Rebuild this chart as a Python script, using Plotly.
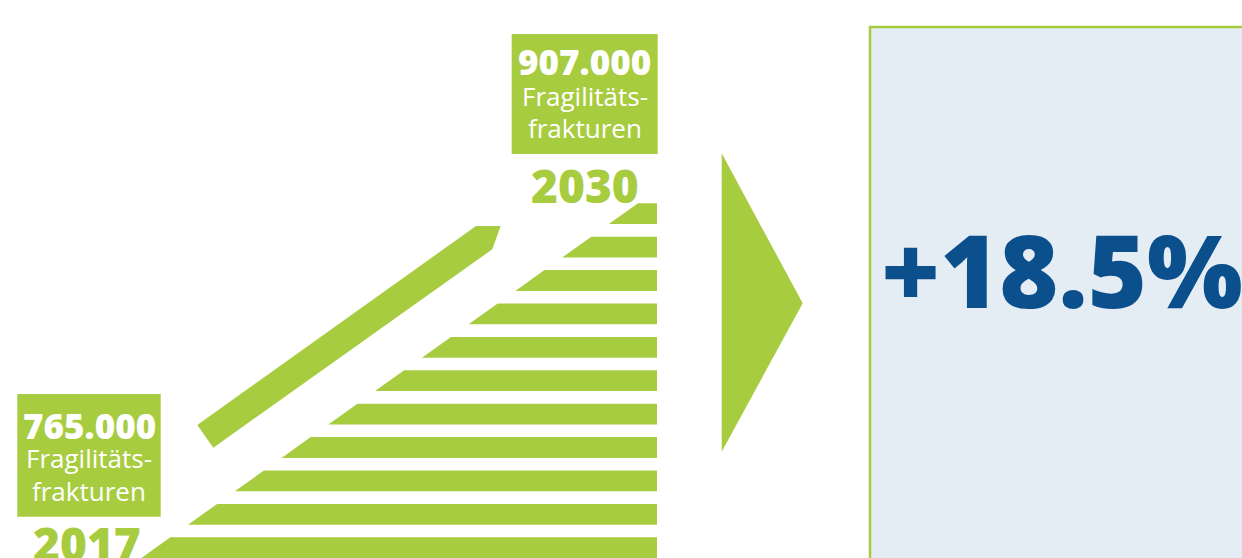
import plotly.graph_objects as go

# ---- data ----
years = ["2017", "2030"]
fractures = [765000, 907000]
label_lines = ["Fragilitäts-", "frakturen"]
growth_pct = 18.5
stripe_count = 11

GREEN = "#A8CC40"
BLUE = "#0B4F8C"
BOX_BG = "#E4ECF4"
FONT = "Open Sans"

W, H = 1242, 558

def de_num(v):
    return f"{v:,}".replace(",", ".")

fig = go.Figure()

# ---- stepped ramp (stripes under a diagonal) ----
top0, pitch, sh = 203.3, 33.4, 20.8
x_right, x_at_top0, slope = 657, 638, 1.40
def xl(y):
    return x_at_top0 - slope * (y - top0)

sx, sy = [], []
for i in range(stripe_count):
    yt = top0 + i * pitch
    yb = yt + sh
    sx += [xl(yt), x_right, x_right, xl(yb), xl(yt), None]
    sy += [yt, yt, yb, yb, yt, None]
fig.add_trace(go.Scatter(x=sx, y=sy, mode="lines", fill="toself",
                         fillcolor=GREEN, line=dict(width=0), hoverinfo="skip"))

# ---- diagonal trend bar ----
bx = [197.3, 476, 500.7, 492.3, 213.3, 197.3]
by = [425, 226, 226, 249.3, 447.7, 425]
fig.add_trace(go.Scatter(x=bx, y=by, mode="lines", fill="toself",
                         fillcolor=GREEN, line=dict(width=0), hoverinfo="skip"))

# ---- arrow triangle ----
fig.add_trace(go.Scatter(x=[721.7, 802.7, 721.7, 721.7], y=[153.3, 303.3, 451.7, 153.3],
                         mode="lines", fill="toself", fillcolor=GREEN,
                         line=dict(width=0), hoverinfo="skip"))

shapes = []
# result box
shapes.append(dict(type="rect", xref="x", yref="y", x0=870, y0=27, x1=1260, y1=580,
                   fillcolor=BOX_BG, line=dict(color=GREEN, width=2.5), layer="below"))
# label boxes
label_boxes = [(17.3, 394, 160.7, 516.7), (511.7, 34, 657.7, 154)]
for (x0, y0, x1, y1) in label_boxes:
    shapes.append(dict(type="rect", xref="x", yref="y", x0=x0, y0=y0, x1=x1, y1=y1,
                       fillcolor=GREEN, line=dict(width=0), layer="below"))

annotations = []
def txt(x, y, s, size, color, weight=400, xanchor="center"):
    annotations.append(dict(x=x, y=y, xref="x", yref="y", text=s, showarrow=False,
                            xanchor=xanchor, yanchor="middle",
                            font=dict(family=FONT, size=size, color=color, weight=weight)))

# label positions: (center x, value y, line1 y, line2 y, year x, year y)
pos = [(89, 425.3, 458, 491.4, 86.7, 543.1),
       (584.7, 61.8, 96.3, 127.7, 585, 184.8)]
for yr, val, (cx, vy, l1, l2, yx, yy) in zip(years, fractures, pos):
    txt(cx, vy, de_num(val), 35, "white", 800)
    txt(cx, l1, label_lines[0], 26, "white", 400)
    txt(cx, l2, label_lines[1], 26, "white", 400)
    txt(yx, yy, yr, 46, GREEN, 800)

txt(1061.5, 269, f"+{growth_pct:.1f}%", 101, BLUE, 800)

fig.update_layout(
    width=W, height=H, margin=dict(l=0, r=0, t=0, b=0),
    paper_bgcolor="white", plot_bgcolor="white", showlegend=False,
    xaxis=dict(range=[0, W], visible=False, fixedrange=True),
    yaxis=dict(range=[H, 0], visible=False, fixedrange=True),
    shapes=shapes, annotations=annotations,
)

fig.write_html("out.html", config={"displayModeBar": False},
               post_script="document.body.style.margin='0';document.body.style.overflow='hidden';")
